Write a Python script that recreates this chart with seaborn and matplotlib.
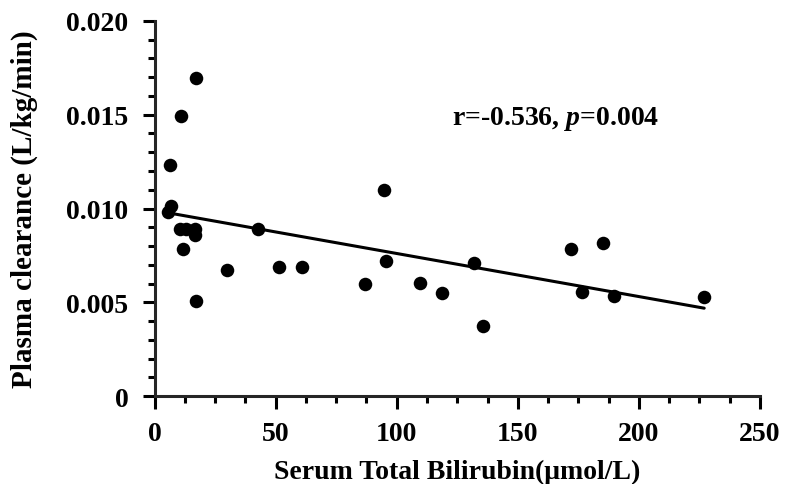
import numpy as np
import pandas as pd
import seaborn as sns
import matplotlib.pyplot as plt
from matplotlib.ticker import MultipleLocator, FuncFormatter

# Dados
bilirrubina = [6.2, 6.6, 5.5, 10.7, 17.0, 10.3, 13.0, 16.5, 16.8, 11.6, 17.0,
               30.0, 42.6, 51.2, 60.7, 86.8, 94.6, 95.5, 109.5, 118.6, 132.0,
               135.5, 172.0, 176.4, 185.0, 189.7, 227.0]
depuracao = [0.01232, 0.01012, 0.00980, 0.01492, 0.01695, 0.00890, 0.00890,
             0.00890, 0.00860, 0.00782, 0.00505, 0.00675, 0.00890, 0.00690,
             0.00688, 0.00598, 0.01098, 0.00720, 0.00605, 0.00550, 0.00712,
             0.00375, 0.00785, 0.00557, 0.00815, 0.00536, 0.00528]
texto_corr = 'r=-0.536, $\\mathit{p}$=0.004'

df = pd.DataFrame({'x': bilirrubina, 'y': depuracao})

sns.set_style('ticks')
plt.rcParams['font.family'] = ['Liberation Serif', 'DejaVu Serif']
plt.rcParams['font.weight'] = 'bold'
plt.rcParams['text.color'] = 'black'
plt.rcParams['axes.labelcolor'] = 'black'
plt.rcParams['mathtext.fontset'] = 'custom'
plt.rcParams['mathtext.it'] = 'Liberation Serif:italic:bold'
plt.rcParams['mathtext.rm'] = 'Liberation Serif:bold'

fig = plt.figure(figsize=(7.85, 4.85), dpi=100)
ax = fig.add_axes([0.197, 0.181, 0.771, 0.774])

sns.regplot(data=df, x='x', y='y', ci=None, ax=ax, color='black',
            scatter_kws={'s': 95, 'alpha': 1, 'linewidths': 0},
            line_kws={'lw': 2.2})

ax.set_xlim(0, 250)
ax.set_ylim(0, 0.020)
ax.xaxis.set_major_locator(MultipleLocator(50))
ax.xaxis.set_minor_locator(MultipleLocator(12.5))
ax.yaxis.set_major_locator(MultipleLocator(0.005))
ax.yaxis.set_minor_locator(MultipleLocator(0.001))
ax.yaxis.set_major_formatter(FuncFormatter(lambda v, p: '0' if v == 0 else f'{v:.3f}'))

for lado in ['top', 'right']:
    ax.spines[lado].set_visible(False)
for lado in ['left', 'bottom']:
    ax.spines[lado].set_linewidth(2.2)
ax.tick_params(which='major', length=9, width=2.2, labelsize=20, colors='black')
ax.tick_params(axis='x', which='major', pad=9)
ax.tick_params(axis='y', which='major', pad=10)
ax.tick_params(which='minor', length=5, width=2.2, colors='black')

ax.set_xlabel('Serum Total Bilirubin(μmol/L)', fontsize=20, fontweight='bold', labelpad=9)
ax.set_ylabel('Plasma clearance (L/kg/min)', fontsize=21, fontweight='bold', labelpad=20)

ax.text(123, 0.0148, texto_corr, fontsize=20, fontweight='bold', va='center')

plt.savefig('out.png', dpi=100)
